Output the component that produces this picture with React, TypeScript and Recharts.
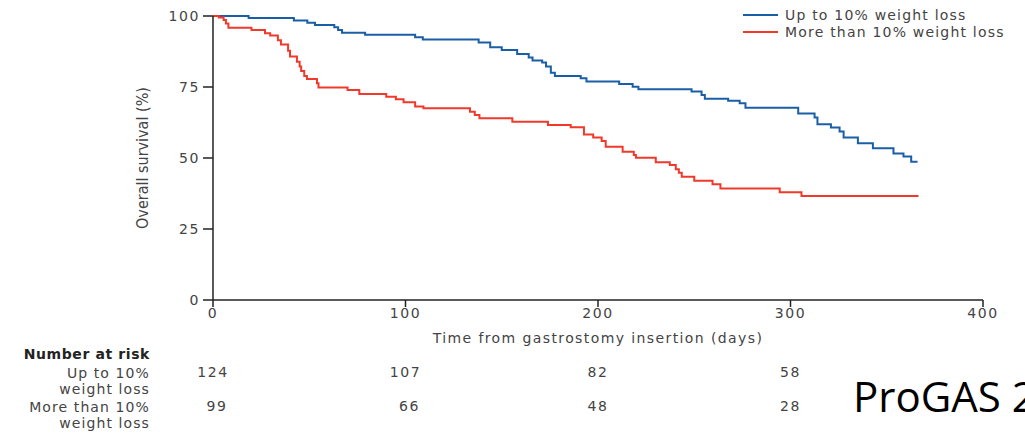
import { LineChart, Line, XAxis, YAxis, Legend } from "recharts";

// Kaplan-Meier steps (days, % surviving)
const upToTimes = [0, 18.5, 42, 49, 53, 63, 65, 67, 79, 105, 109, 138, 144, 150, 158, 164, 166, 171, 173, 175.5, 177.6, 191, 194, 211, 218, 221, 248.6, 253.8, 255.5, 267.6, 273.6, 276.6, 304, 312.5, 314, 321, 325.5, 327.6, 335, 342.8, 353.5, 358.7, 362.7, 366];
const upToSurvival = [100, 99.3, 98.4, 97.6, 96.8, 96.0, 95.1, 94.1, 93.4, 92.5, 91.7, 90.7, 89.0, 88.0, 86.6, 85.4, 84.3, 83.6, 82.2, 80.0, 78.9, 78.1, 76.9, 76.1, 75.1, 74.2, 73.4, 72.2, 70.9, 70.2, 69.3, 67.7, 65.7, 64.3, 61.9, 60.7, 59.3, 57.2, 55.2, 53.4, 51.6, 50.5, 48.7, 48.7];

const moreTimes = [0, 3, 5.5, 6.7, 8, 20, 27, 29.7, 33.7, 35.3, 39, 40, 43.6, 45, 45.8, 47.4, 48.8, 54, 54.8, 69.9, 76, 90, 95, 99, 105, 109.3, 133.5, 136, 138.4, 155.5, 174, 185.8, 192.7, 197.5, 201.9, 204, 212.8, 218.6, 219.7, 230, 237.3, 240.4, 242, 243.5, 250, 259.5, 263.6, 294.4, 305.7, 366.5];
const moreSurvival = [100, 99.5, 98.6, 97.4, 95.9, 95.1, 93.9, 93.1, 91.5, 90.0, 87.8, 85.7, 83.9, 82.2, 80.6, 78.9, 77.8, 76.3, 74.8, 73.9, 72.5, 71.6, 70.7, 69.6, 68.1, 67.5, 66.3, 65.1, 64.0, 62.8, 61.6, 60.8, 58.3, 57.2, 56.0, 54.0, 52.2, 51.1, 50.1, 48.5, 47.5, 46.0, 44.8, 43.4, 42.0, 40.8, 39.3, 37.9, 36.6, 36.6];

const xTicks = [0, 100, 200, 300, 400];
const yTicks = [0, 25, 50, 75, 100];
const riskTimes = [0, 100, 200, 300];
const riskUpTo = [124, 107, 82, 58];
const riskMore = [99, 66, 48, 28];

const BLUE = "#1a5fa6";
const RED = "#f0392b";
const TEXT = "#444";
const FONT = "'DejaVu Sans', sans-serif";

const upToData = upToTimes.map((t, i) => ({ t, s: upToSurvival[i] }));
const moreData = moreTimes.map((t, i) => ({ t, s: moreSurvival[i] }));

const tickStyle = { fontSize: 14, fill: TEXT, fontFamily: FONT, letterSpacing: 1.6 };

// x tick label plus the number-at-risk values below it, all on the axis scale
function TimeTick(props: any) {
  const { x, y, payload } = props;
  const i = riskTimes.indexOf(payload.value);
  return (
    <g>
      <text x={x} y={y} dy="0.71em" textAnchor="middle" {...tickStyle}>{payload.value}</text>
      {i >= 0 && (
        <>
          <text x={x} y={y + 69} textAnchor="middle" {...tickStyle}>{riskUpTo[i]}</text>
          <text x={x + (i < 2 ? 4 : 0)} y={y + 103} textAnchor="middle" {...tickStyle}>{riskMore[i]}</text>
        </>
      )}
    </g>
  );
}

function LegendBox() {
  const items = [
    { label: "Up to 10% weight loss", color: BLUE },
    { label: "More than 10% weight loss", color: RED },
  ];
  return (
    <div style={{ fontFamily: FONT, fontSize: 14, color: TEXT, letterSpacing: 1.2 }}>
      {items.map((it) => (
        <div key={it.label} style={{ display: "flex", alignItems: "center", height: 17 }}>
          <span style={{ display: "inline-block", width: 35, height: 2, background: it.color, marginRight: 7 }} />
          <span>{it.label}</span>
        </div>
      ))}
    </div>
  );
}

const leftLabel = { position: "absolute" as const, right: 1025 - 150, fontFamily: FONT, fontSize: 14, color: TEXT, whiteSpace: "nowrap" as const, letterSpacing: 1.1, lineHeight: "16px" };

export default function App() {
  return (
    <div style={{ position: "absolute", left: 0, top: 0, width: 1025, height: 433, overflow: "hidden", background: "#fff" }}>
      <LineChart width={1025} height={433} margin={{ top: 16, right: 42, left: 0, bottom: 88 }}>
        <XAxis
          type="number"
          dataKey="t"
          domain={[0, 400]}
          ticks={xTicks}
          height={45}
          tickSize={7}
          tickMargin={1}
          stroke="#222"
          strokeWidth={1.5}
          tick={<TimeTick />}
          label={{
            content: ({ viewBox }: any) => (
              <text x={viewBox.x + viewBox.width / 2} y={viewBox.y + 43} textAnchor="middle" fontFamily={FONT} fill={TEXT} fontSize={14} letterSpacing={1.4}>
                Time from gastrostomy insertion (days)
              </text>
            ),
          }}
        />
        <YAxis
          type="number"
          domain={[0, 100]}
          ticks={yTicks}
          width={213}
          tickSize={10}
          tickMargin={3}
          stroke="#222"
          strokeWidth={1.5}
          tick={tickStyle}
          label={{
            content: ({ viewBox }: any) => {
              const cx = viewBox.x + 143;
              const cy = viewBox.y + viewBox.height / 2;
              return (
                <text x={cx} y={cy} transform={`rotate(-90 ${cx} ${cy})`} textAnchor="middle" dominantBaseline="middle" fontFamily="'Liberation Sans Narrow', 'DejaVu Sans Condensed', sans-serif" fontSize={16} fill={TEXT}>
                  Overall survival (%)
                </text>
              );
            },
          }}
        />
        <Legend layout="horizontal" verticalAlign="middle" align="center" content={<LegendBox />} wrapperStyle={{ position: "absolute", top: 6, left: 743, width: "auto" }} />
        <Line data={upToData} dataKey="s" name="Up to 10% weight loss" type="stepAfter" stroke={BLUE} strokeWidth={2} dot={false} isAnimationActive={false} />
        <Line data={moreData} dataKey="s" name="More than 10% weight loss" type="stepAfter" stroke={RED} strokeWidth={2} dot={false} isAnimationActive={false} />
      </LineChart>
      <div style={{ ...leftLabel, top: 346, fontWeight: "bold", color: "#222", letterSpacing: 0.6 }}>Number at risk</div>
      <div style={{ ...leftLabel, top: 365, textAlign: "right" }}>Up to 10%<br />weight loss</div>
      <div style={{ ...leftLabel, top: 399, textAlign: "right" }}>More than 10%<br />weight loss</div>
      <div style={{ position: "absolute", left: 853, top: 371, fontFamily: "'Open Sans', sans-serif", fontSize: 42, color: "#000", whiteSpace: "nowrap", lineHeight: "50px" }}>ProGAS 2</div>
    </div>
  );
}
